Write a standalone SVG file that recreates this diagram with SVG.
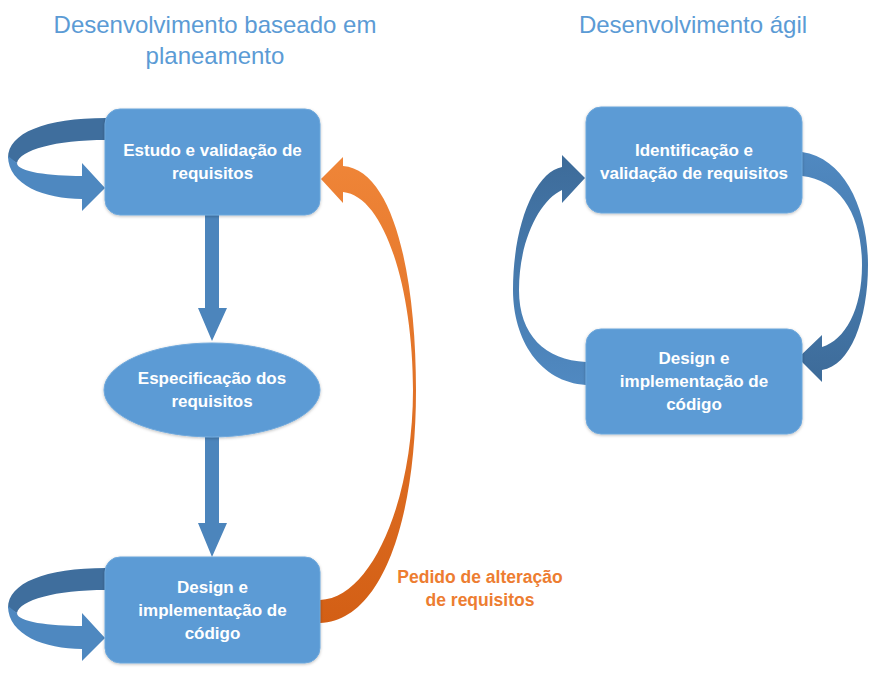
<svg xmlns="http://www.w3.org/2000/svg" width="881" height="674" viewBox="0 0 881 674">
<defs>
<style>
.title{font-family:"Liberation Sans",Arial,sans-serif;font-size:24px;fill:#5B9BD5;text-anchor:middle}
.node{fill:#5B9BD5;stroke:#6FA8DC;stroke-width:1;filter:url(#sh)}
.lbl{font-family:"Liberation Sans",Arial,sans-serif;font-size:17px;font-weight:bold;fill:#FFFFFF;text-anchor:middle}
.olbl{font-family:"Liberation Sans",Arial,sans-serif;font-size:17.5px;font-weight:bold;fill:#ED7D31;text-anchor:middle}
.varrow{fill:#4C85BC}
.back{fill:#3F6E9D}
.front{fill:#4E88C0}
</style>
<filter id="sh" x="-10%" y="-10%" width="120%" height="125%">
<feDropShadow dx="0" dy="1" stdDeviation="1.5" flood-color="#000" flood-opacity="0.25"/>
</filter>
<linearGradient id="og" x1="0" y1="0" x2="0" y2="1">
<stop offset="0" stop-color="#EF8538"/>
<stop offset="1" stop-color="#D35F15"/>
</linearGradient>
<linearGradient id="rg" x1="0" y1="0" x2="0" y2="1">
<stop offset="0" stop-color="#5089C1"/>
<stop offset="1" stop-color="#3D6B99"/>
</linearGradient>
<linearGradient id="lg" x1="0" y1="0" x2="0" y2="1">
<stop offset="0" stop-color="#3D6B99"/>
<stop offset="1" stop-color="#5089C1"/>
</linearGradient>
</defs>
<rect width="881" height="674" fill="#FFFFFF"/>

<text class="title" x="215" y="33">Desenvolvimento baseado em</text>
<text class="title" x="215" y="64">planeamento</text>
<text class="title" x="693" y="33">Desenvolvimento ágil</text>

<g id="connectors">
<path class="varrow" d="M205,215 L219,215 L219,308 L227,308 L212,341 L198,308 L205,308 Z"/>
<path class="varrow" d="M205,437 L219,437 L219,523 L227,523 L212,557 L198,523 L205,523 Z"/>
<g id="loop-top">
<path class="back" d="M106,118 C45,118 8,133 8,158 L17,163 C20,150 55,140 106,140 Z"/>
<path class="front" d="M8,156 C8,185 45,199 82,199 L82,211 L105,188 L82,163 L82,176 C50,176 17,172 17,163 Z"/>
</g>
<g id="loop-bottom" transform="translate(0,450)">
<path class="back" d="M106,118 C45,118 8,133 8,158 L17,163 C20,150 55,140 106,140 Z"/>
<path class="front" d="M8,156 C8,185 45,199 82,199 L82,211 L105,188 L82,163 L82,176 C50,176 17,172 17,163 Z"/>
</g>
<path fill="url(#og)" d="M320,600 C372,598 413,500 413,390 C413,290 385,196 343,192 L343,203 L321,179 L343,157 L343,166 C395,170 416,280 416,390 C416,520 382,621 320,623 Z"/>
<path fill="url(#rg)" d="M802,152 C845,158 868,210 868,265 C868,320 850,366 822,370 L822,382 L798,358 L822,335 L822,347 C845,340 862,310 862,265 C862,215 840,180 802,176 Z"/>
<path fill="url(#lg)" d="M586,385 C540,382 513,340 513,290 C513,225 535,172 562,167 L562,155 L585,178 L562,203 L562,190 C540,200 519,240 519,290 C519,335 545,360 586,362 Z"/>
</g>

<g id="node-estudo">
<rect class="node" x="105" y="109" width="215" height="106" rx="15"/>
<text class="lbl" x="212.5" y="156">Estudo e validação de</text>
<text class="lbl" x="212.5" y="179">requisitos</text>
</g>

<g id="node-especificacao">
<ellipse class="node" cx="212" cy="390" rx="108" ry="47"/>
<text class="lbl" x="212" y="384">Especificação dos</text>
<text class="lbl" x="212" y="407">requisitos</text>
</g>

<g id="node-design-left">
<rect class="node" x="105" y="557" width="215" height="106" rx="15"/>
<text class="lbl" x="212.5" y="593">Design e</text>
<text class="lbl" x="212.5" y="616">implementação de</text>
<text class="lbl" x="212.5" y="639">código</text>
</g>

<g id="label-pedido">
<text class="olbl" x="480" y="583">Pedido de alteração</text>
<text class="olbl" x="480" y="606">de requisitos</text>
</g>

<g id="node-identificacao">
<rect class="node" x="586" y="107" width="216" height="106" rx="15"/>
<text class="lbl" x="694" y="156">Identificação e</text>
<text class="lbl" x="694" y="179">validação de requisitos</text>
</g>

<g id="node-design-right">
<rect class="node" x="586" y="329" width="216" height="105" rx="15"/>
<text class="lbl" x="694" y="364">Design e</text>
<text class="lbl" x="694" y="387">implementação de</text>
<text class="lbl" x="694" y="410">código</text>
</g>
</svg>
